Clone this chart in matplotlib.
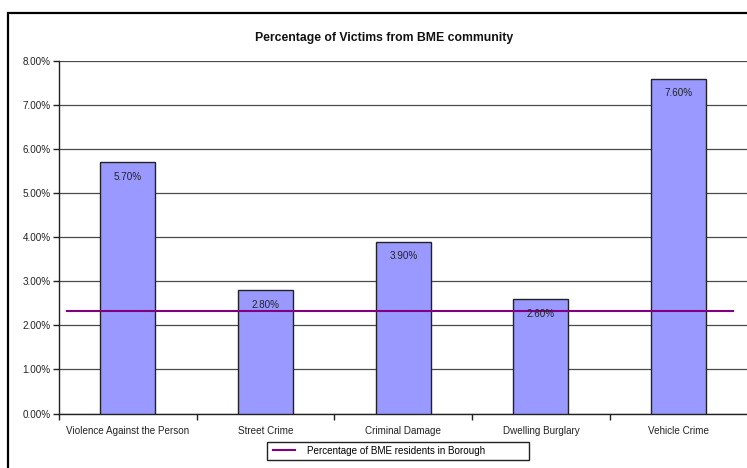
import matplotlib
matplotlib.use("Agg")
import matplotlib.pyplot as plt
from matplotlib.patches import Rectangle
from matplotlib.ticker import FuncFormatter, FixedLocator
import numpy as np

categories = ["Violence Against the Person", "Street Crime", "Criminal Damage",
              "Dwelling Burglary", "Vehicle Crime"]
values = [5.70, 2.80, 3.90, 2.60, 7.60]
bme_residents = 2.32
legend_label = "Percentage of BME residents in Borough"
title = "Percentage of Victims from BME community"

plt.rcParams['font.family'] = ['Liberation Sans', 'DejaVu Sans']
FS = 7.1

fig = plt.figure(figsize=(7.47, 4.68), dpi=100)
ax = fig.add_axes([59/747, (468-413.5)/468, 688.5/747, (413.5-61)/468])

x = np.arange(len(categories))
ax.bar(x, values, width=0.4, color='#9999FF', edgecolor='#222222', linewidth=1.0, zorder=3)
for xi, v in zip(x, values):
    ax.annotate(f"{v:.2f}%", (xi, v), xytext=(0, -10.5), textcoords='offset points',
                ha='center', va='center', fontsize=FS, color='#222222', zorder=5)

ax.plot([-0.442, 4.395], [bme_residents, bme_residents], color='#800080', lw=1.5,
        zorder=4, label=legend_label)

ax.set_xlim(-0.5, 4.5)
ax.set_ylim(0, 8)
ax.set_yticks(np.arange(0, 9, 1))
ax.yaxis.set_major_formatter(FuncFormatter(lambda v, p: f"{v:.2f}%"))
ax.yaxis.grid(True, color='#4a4a4a', lw=0.9, zorder=0)
ax.set_axisbelow(True)

ax.set_xticks(x)
ax.set_xticklabels(categories, fontsize=FS, color='#222222')
ax.tick_params(axis='x', length=0, pad=9)
ax.xaxis.set_minor_locator(FixedLocator(np.arange(-0.5, 5.0, 1.0)))
ax.tick_params(axis='x', which='minor', length=4, width=1, color='#222222', direction='out')
ax.tick_params(axis='y', length=4, width=1, color='#222222', labelsize=FS, labelcolor='#222222', pad=2)

for s in ['top', 'right']:
    ax.spines[s].set_visible(False)
ax.spines['left'].set_color('#222222')
ax.spines['bottom'].set_color('#222222')
ax.spines['left'].set_linewidth(1.0)
ax.spines['bottom'].set_linewidth(1.0)

fig.text(384.5/747, (468-38.3)/468, title, ha='center', va='center', fontsize=8.8,
         fontweight='bold', color='#111111')

leg = fig.legend(loc='center left', bbox_to_anchor=(273/747, (468-450.9)/468), fontsize=FS,
                 frameon=False, handlelength=2.25, borderpad=0, borderaxespad=0,
                 handletextpad=1.2)
fig.patches.append(Rectangle((267/747, (468-460)/468), (529-267)/747, 18.3/468,
                             transform=fig.transFigure, fill=False, edgecolor='#222222',
                             lw=1.0, zorder=10))

fig.patches.append(Rectangle((8/747, -0.05), 1.2, (468-12.5)/468 + 0.05, transform=fig.transFigure,
                             fill=False, edgecolor='black', lw=1.6, zorder=10))

fig.savefig("out.png", dpi=100)
